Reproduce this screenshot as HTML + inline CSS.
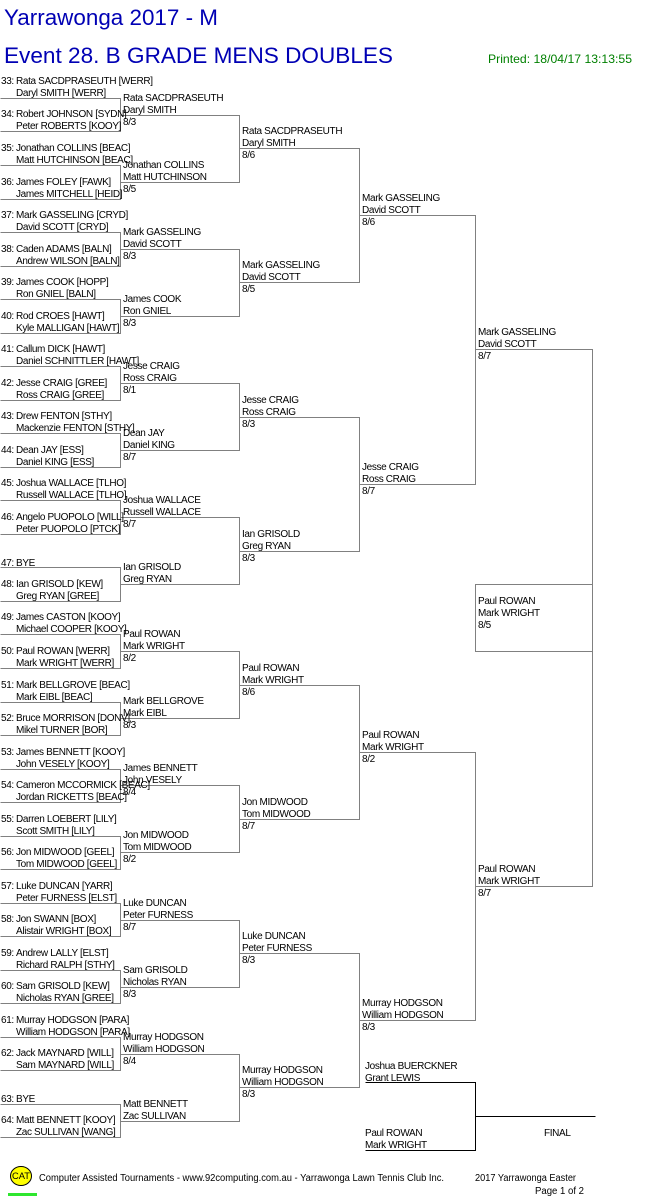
<!DOCTYPE html>
<html>
<head>
<meta charset="utf-8">
<style>
html,body{margin:0;padding:0;background:#fff;}
svg{display:block;}
.t{font-family:"Liberation Sans",Arial,sans-serif;font-size:10px;letter-spacing:-0.35px;fill:#000;}
</style>
</head>
<body>
<svg width="661" height="1196" viewBox="0 0 661 1196" xmlns="http://www.w3.org/2000/svg">
<rect x="0" y="0" width="661" height="1196" fill="#fff"/>

<!-- Titles -->
<text x="4" y="25" font-family="Liberation Sans, Arial, sans-serif" font-size="22" fill="#0000b4" textLength="214" lengthAdjust="spacingAndGlyphs">Yarrawonga 2017 - M</text>
<text x="4" y="63" font-family="Liberation Sans, Arial, sans-serif" font-size="22.5" fill="#0000b4" textLength="389" lengthAdjust="spacingAndGlyphs">Event 28. B GRADE MENS DOUBLES</text>
<text x="488" y="63" font-family="Liberation Sans, Arial, sans-serif" font-size="12" fill="#008000" textLength="144" lengthAdjust="spacingAndGlyphs">Printed: 18/04/17 13:13:55</text>

<!-- Bracket lines -->
<g transform="translate(0.5,0.5)" fill="none" stroke="#808080" stroke-width="1" shape-rendering="crispEdges">
<path d="M0 98H120V131H0 M0 165H120V199H0 M0 232H120V266H0 M0 299H120V333H0 M0 366H120V400H0 M0 433H120V467H0 M0 500H120V534H0 M0 567H120V601H0 M0 634H120V668H0 M0 702H120V735H0 M0 769H120V802H0 M0 836H120V869H0 M0 903H120V936H0 M0 970H120V1003H0 M0 1037H120V1070H0 M0 1104H120V1137H0"/>
<path d="M120 115H239V182H120 M120 249H239V316H120 M120 383H239V450H120 M120 517H239V584H120 M120 651H239V718H120 M120 785H239V852H120 M120 920H239V987H120 M120 1054H239V1121H120"/>
<path d="M239 148H359V282H239 M239 417H359V551H239 M239 685H359V819H239 M239 953H359V1087H239"/>
<path d="M359 215H475V484H359 M359 752H475V1020H359"/>
<path d="M475 349H592V886H475"/>
<path d="M592 584H475V651H592"/>
</g>
<g transform="translate(0.5,0.5)" fill="none" stroke="#000" stroke-width="1" shape-rendering="crispEdges">
<path d="M365 1082H475V1150H365 M475 1116H595"/>
</g>

<!-- Round 1 entries -->
<g class="t">
<text x="1" y="84">33:</text><text x="16" y="84">Rata SACDPRASEUTH [WERR]</text><text x="16" y="96">Daryl SMITH [WERR]</text>
<text x="1" y="117">34:</text><text x="16" y="117">Robert JOHNSON [SYDN]</text><text x="16" y="129">Peter ROBERTS [KOOY]</text>
<text x="1" y="151">35:</text><text x="16" y="151">Jonathan COLLINS [BEAC]</text><text x="16" y="163">Matt HUTCHINSON [BEAC]</text>
<text x="1" y="185">36:</text><text x="16" y="185">James FOLEY [FAWK]</text><text x="16" y="197">James MITCHELL [HEID]</text>
<text x="1" y="218">37:</text><text x="16" y="218">Mark GASSELING [CRYD]</text><text x="16" y="230">David SCOTT [CRYD]</text>
<text x="1" y="252">38:</text><text x="16" y="252">Caden ADAMS [BALN]</text><text x="16" y="264">Andrew WILSON [BALN]</text>
<text x="1" y="285">39:</text><text x="16" y="285">James COOK [HOPP]</text><text x="16" y="297">Ron GNIEL [BALN]</text>
<text x="1" y="319">40:</text><text x="16" y="319">Rod CROES [HAWT]</text><text x="16" y="331">Kyle MALLIGAN [HAWT]</text>
<text x="1" y="352">41:</text><text x="16" y="352">Callum DICK [HAWT]</text><text x="16" y="364">Daniel SCHNITTLER [HAWT]</text>
<text x="1" y="386">42:</text><text x="16" y="386">Jesse CRAIG [GREE]</text><text x="16" y="398">Ross CRAIG [GREE]</text>
<text x="1" y="419">43:</text><text x="16" y="419">Drew FENTON [STHY]</text><text x="16" y="431">Mackenzie FENTON [STHY]</text>
<text x="1" y="453">44:</text><text x="16" y="453">Dean JAY [ESS]</text><text x="16" y="465">Daniel KING [ESS]</text>
<text x="1" y="486">45:</text><text x="16" y="486">Joshua WALLACE [TLHO]</text><text x="16" y="498">Russell WALLACE [TLHO]</text>
<text x="1" y="520">46:</text><text x="16" y="520">Angelo PUOPOLO [WILL]</text><text x="16" y="532">Peter PUOPOLO [PTCK]</text>
<text x="1" y="566">47:</text><text x="16" y="566">BYE</text>
<text x="1" y="587">48:</text><text x="16" y="587">Ian GRISOLD [KEW]</text><text x="16" y="599">Greg RYAN [GREE]</text>
<text x="1" y="620">49:</text><text x="16" y="620">James CASTON [KOOY]</text><text x="16" y="632">Michael COOPER [KOOY]</text>
<text x="1" y="654">50:</text><text x="16" y="654">Paul ROWAN [WERR]</text><text x="16" y="666">Mark WRIGHT [WERR]</text>
<text x="1" y="688">51:</text><text x="16" y="688">Mark BELLGROVE [BEAC]</text><text x="16" y="700">Mark EIBL [BEAC]</text>
<text x="1" y="721">52:</text><text x="16" y="721">Bruce MORRISON [DONV]</text><text x="16" y="733">Mikel TURNER [BOR]</text>
<text x="1" y="755">53:</text><text x="16" y="755">James BENNETT [KOOY]</text><text x="16" y="767">John VESELY [KOOY]</text>
<text x="1" y="788">54:</text><text x="16" y="788">Cameron MCCORMICK [BEAC]</text><text x="16" y="800">Jordan RICKETTS [BEAC]</text>
<text x="1" y="822">55:</text><text x="16" y="822">Darren LOEBERT [LILY]</text><text x="16" y="834">Scott SMITH [LILY]</text>
<text x="1" y="855">56:</text><text x="16" y="855">Jon MIDWOOD [GEEL]</text><text x="16" y="867">Tom MIDWOOD [GEEL]</text>
<text x="1" y="889">57:</text><text x="16" y="889">Luke DUNCAN [YARR]</text><text x="16" y="901">Peter FURNESS [ELST]</text>
<text x="1" y="922">58:</text><text x="16" y="922">Jon SWANN [BOX]</text><text x="16" y="934">Alistair WRIGHT [BOX]</text>
<text x="1" y="956">59:</text><text x="16" y="956">Andrew LALLY [ELST]</text><text x="16" y="968">Richard RALPH [STHY]</text>
<text x="1" y="989">60:</text><text x="16" y="989">Sam GRISOLD [KEW]</text><text x="16" y="1001">Nicholas RYAN [GREE]</text>
<text x="1" y="1023">61:</text><text x="16" y="1023">Murray HODGSON [PARA]</text><text x="16" y="1035">William HODGSON [PARA]</text>
<text x="1" y="1056">62:</text><text x="16" y="1056">Jack MAYNARD [WILL]</text><text x="16" y="1068">Sam MAYNARD [WILL]</text>
<text x="1" y="1102">63:</text><text x="16" y="1102">BYE</text>
<text x="1" y="1123">64:</text><text x="16" y="1123">Matt BENNETT [KOOY]</text><text x="16" y="1135">Zac SULLIVAN [WANG]</text>
</g>

<!-- Round 2 winners -->
<g class="t">
<text x="123" y="101">Rata SACDPRASEUTH</text><text x="123" y="113">Daryl SMITH</text><text x="123" y="125">8/3</text>
<text x="123" y="168">Jonathan COLLINS</text><text x="123" y="180">Matt HUTCHINSON</text><text x="123" y="192">8/5</text>
<text x="123" y="235">Mark GASSELING</text><text x="123" y="247">David SCOTT</text><text x="123" y="259">8/3</text>
<text x="123" y="302">James COOK</text><text x="123" y="314">Ron GNIEL</text><text x="123" y="326">8/3</text>
<text x="123" y="369">Jesse CRAIG</text><text x="123" y="381">Ross CRAIG</text><text x="123" y="393">8/1</text>
<text x="123" y="436">Dean JAY</text><text x="123" y="448">Daniel KING</text><text x="123" y="460">8/7</text>
<text x="123" y="503">Joshua WALLACE</text><text x="123" y="515">Russell WALLACE</text><text x="123" y="527">8/7</text>
<text x="123" y="570">Ian GRISOLD</text><text x="123" y="582">Greg RYAN</text>
<text x="123" y="637">Paul ROWAN</text><text x="123" y="649">Mark WRIGHT</text><text x="123" y="661">8/2</text>
<text x="123" y="704">Mark BELLGROVE</text><text x="123" y="716">Mark EIBL</text><text x="123" y="728">8/3</text>
<text x="123" y="771">James BENNETT</text><text x="123" y="783">John VESELY</text><text x="123" y="795">8/4</text>
<text x="123" y="838">Jon MIDWOOD</text><text x="123" y="850">Tom MIDWOOD</text><text x="123" y="862">8/2</text>
<text x="123" y="906">Luke DUNCAN</text><text x="123" y="918">Peter FURNESS</text><text x="123" y="930">8/7</text>
<text x="123" y="973">Sam GRISOLD</text><text x="123" y="985">Nicholas RYAN</text><text x="123" y="997">8/3</text>
<text x="123" y="1040">Murray HODGSON</text><text x="123" y="1052">William HODGSON</text><text x="123" y="1064">8/4</text>
<text x="123" y="1107">Matt BENNETT</text><text x="123" y="1119">Zac SULLIVAN</text>
</g>

<!-- Round 3 winners -->
<g class="t">
<text x="242" y="134">Rata SACDPRASEUTH</text><text x="242" y="146">Daryl SMITH</text><text x="242" y="158">8/6</text>
<text x="242" y="268">Mark GASSELING</text><text x="242" y="280">David SCOTT</text><text x="242" y="292">8/5</text>
<text x="242" y="403">Jesse CRAIG</text><text x="242" y="415">Ross CRAIG</text><text x="242" y="427">8/3</text>
<text x="242" y="537">Ian GRISOLD</text><text x="242" y="549">Greg RYAN</text><text x="242" y="561">8/3</text>
<text x="242" y="671">Paul ROWAN</text><text x="242" y="683">Mark WRIGHT</text><text x="242" y="695">8/6</text>
<text x="242" y="805">Jon MIDWOOD</text><text x="242" y="817">Tom MIDWOOD</text><text x="242" y="829">8/7</text>
<text x="242" y="939">Luke DUNCAN</text><text x="242" y="951">Peter FURNESS</text><text x="242" y="963">8/3</text>
<text x="242" y="1073">Murray HODGSON</text><text x="242" y="1085">William HODGSON</text><text x="242" y="1097">8/3</text>
</g>

<!-- Round 4 winners -->
<g class="t">
<text x="362" y="201">Mark GASSELING</text><text x="362" y="213">David SCOTT</text><text x="362" y="225">8/6</text>
<text x="362" y="470">Jesse CRAIG</text><text x="362" y="482">Ross CRAIG</text><text x="362" y="494">8/7</text>
<text x="362" y="738">Paul ROWAN</text><text x="362" y="750">Mark WRIGHT</text><text x="362" y="762">8/2</text>
<text x="362" y="1006">Murray HODGSON</text><text x="362" y="1018">William HODGSON</text><text x="362" y="1030">8/3</text>
</g>

<!-- Round 5 winners -->
<g class="t">
<text x="478" y="335">Mark GASSELING</text><text x="478" y="347">David SCOTT</text><text x="478" y="359">8/7</text>
<text x="478" y="872">Paul ROWAN</text><text x="478" y="884">Mark WRIGHT</text><text x="478" y="896">8/7</text>
<text x="478" y="604">Paul ROWAN</text><text x="478" y="616">Mark WRIGHT</text><text x="478" y="628">8/5</text>
</g>

<!-- Final -->
<g class="t">
<text x="365" y="1069">Joshua BUERCKNER</text><text x="365" y="1081">Grant LEWIS</text>
<text x="365" y="1136">Paul ROWAN</text><text x="365" y="1148">Mark WRIGHT</text>
<text x="544" y="1136">FINAL</text>
</g>

<!-- Footer -->
<ellipse cx="21" cy="1176" rx="10.5" ry="9.5" fill="#ffff00" stroke="#000" stroke-width="1"/>
<text x="12" y="1179" font-family="Liberation Sans, Arial, sans-serif" font-size="9" fill="#000" textLength="18" lengthAdjust="spacingAndGlyphs">CAT</text>
<rect x="8" y="1193" width="29" height="3" fill="#2ee62e"/>
<text x="39" y="1181" font-family="Liberation Sans, Arial, sans-serif" font-size="10" fill="#000" textLength="405" lengthAdjust="spacingAndGlyphs">Computer Assisted Tournaments - www.92computing.com.au -  Yarrawonga Lawn Tennis Club Inc.</text>
<text x="475" y="1181" font-family="Liberation Sans, Arial, sans-serif" font-size="10" fill="#000" textLength="101" lengthAdjust="spacingAndGlyphs">2017 Yarrawonga Easter</text>
<text x="535" y="1194" font-family="Liberation Sans, Arial, sans-serif" font-size="10" fill="#000" textLength="49" lengthAdjust="spacingAndGlyphs">Page 1 of 2</text>
</svg>
</body>
</html>
